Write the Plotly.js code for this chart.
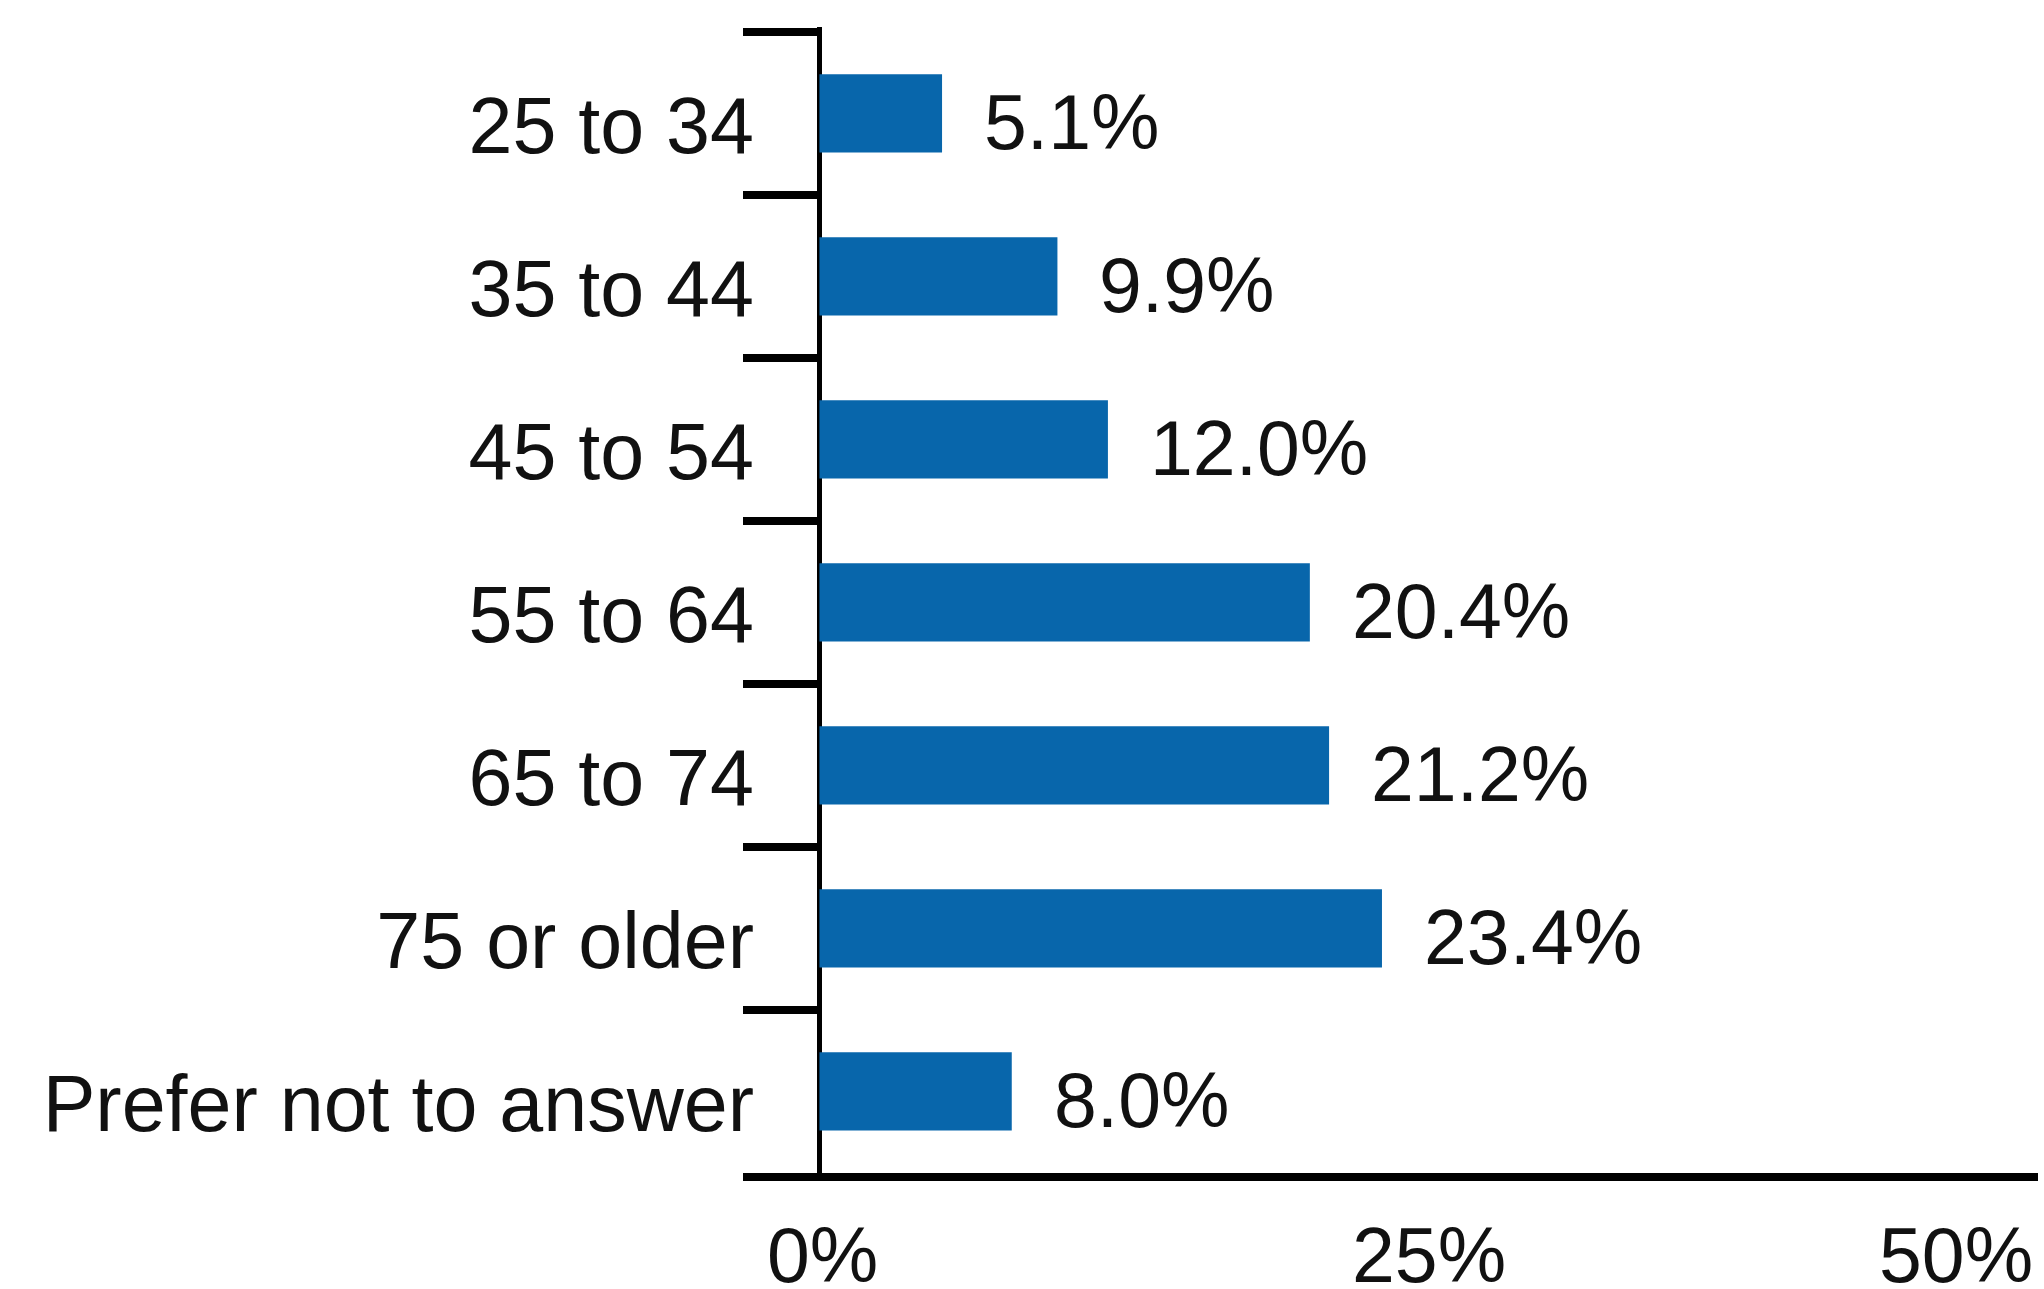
<!DOCTYPE html>
<html>
<head>
<meta charset="utf-8">
<script src="https://cdn.plot.ly/plotly-3.0.1.min.js"></script>
<style>
  html, body { margin: 0; padding: 0; background: #ffffff; }
  #chart { width: 2044px; height: 1289px; }
</style>
</head>
<body>
<div id="chart"></div>
<script>
// ---- data ----
var categories = ["25 to 34", "35 to 44", "45 to 54", "55 to 64", "65 to 74", "75 or older", "Prefer not to answer"];
var values = [5.1, 9.9, 12.0, 20.4, 21.2, 23.4, 8.0];
var valueLabels = ["5.1%", "9.9%", "12.0%", "20.4%", "21.2%", "23.4%", "8.0%"];
var xTickValues = [0, 25, 50];
var xTickLabels = ["0%", "25%", "50%"];

var FONT = "Liberation Sans, Arial, Helvetica, sans-serif";
var BAR_COLOR = "#0866ab";

var trace = {
  type: "bar",
  orientation: "h",
  y: categories,
  x: values,
  marker: { color: BAR_COLOR, line: { width: 0 } },
  hoverinfo: "skip"
};

var annotations = [];
for (var i = 0; i < categories.length; i++) {
  annotations.push({
    x: values[i], y: categories[i], xref: "x", yref: "y",
    text: valueLabels[i], showarrow: false,
    xanchor: "left", yanchor: "middle",
    xshift: 40, yshift: -9,
    font: { family: FONT, size: 77, color: "#111111" }
  });
}
var tickShift = [3, 9, 14];
var tickAnchor = ["center", "center", "right"];
for (var j = 0; j < xTickValues.length; j++) {
  annotations.push({
    x: xTickValues[j], y: 0, xref: "x", yref: "paper",
    yanchor: "top", yshift: -37,
    text: xTickLabels[j], showarrow: false,
    xanchor: tickAnchor[j], xshift: tickShift[j],
    font: { family: FONT, size: 77, color: "#111111" }
  });
}

var layout = {
  width: 2044,
  height: 1289,
  margin: { l: 743, r: 6, t: 27, b: 116, pad: 0 },
  paper_bgcolor: "#ffffff",
  plot_bgcolor: "#ffffff",
  showlegend: false,
  bargap: 0.52,
  font: { family: FONT, size: 77, color: "#111111" },
  xaxis: {
    range: [-3.18, 50.69],
    showgrid: false,
    showticklabels: false,
    ticks: "",
    showline: true,
    linecolor: "#000000",
    linewidth: 8,
    zeroline: true,
    zerolinecolor: "#000000",
    zerolinewidth: 5,
    layer: "above traces",
    fixedrange: true
  },
  yaxis: {
    type: "category",
    range: [6.5, -0.53],
    tickson: "boundaries",
    ticks: "inside",
    ticklen: 76,
    tickwidth: 8,
    tickcolor: "#000000",
    showline: false,
    showgrid: false,
    zeroline: false,
    ticklabelstandoff: -12,
    ticklabelshift: -12,
    tickfont: { family: FONT, size: 79, color: "#111111" },
    fixedrange: true
  },
  annotations: annotations
};

Plotly.newPlot("chart", [trace], layout, { displayModeBar: false, staticPlot: true });
</script>
</body>
</html>
